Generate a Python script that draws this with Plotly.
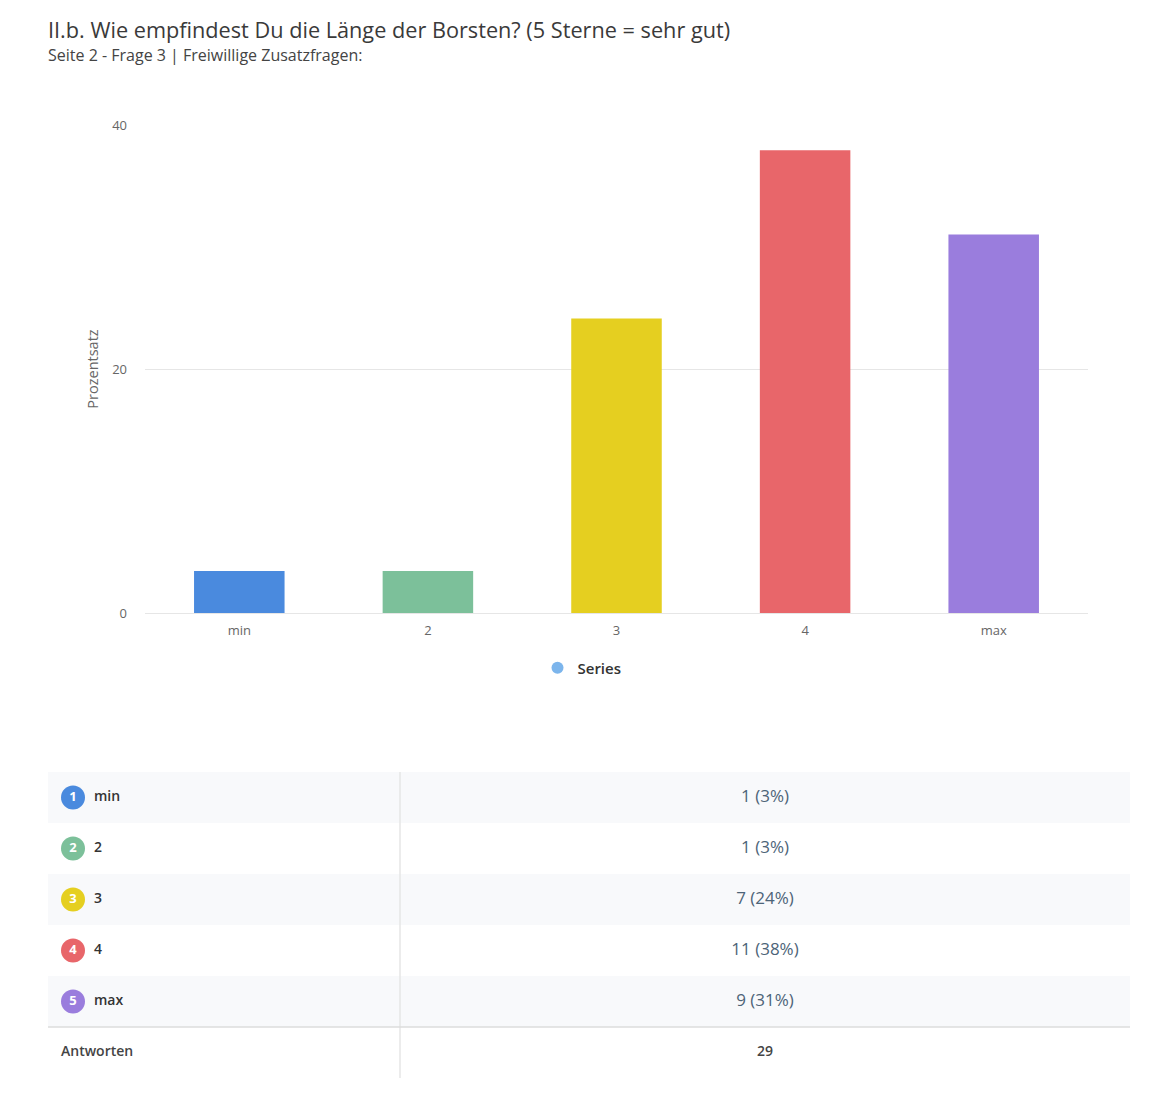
import plotly.graph_objects as go

categories = ["min", "2", "3", "4", "max"]
percent = [3.45, 3.45, 24.14, 37.93, 31.03]
counts = [1, 1, 7, 11, 9]
pct_labels = ["3%", "3%", "24%", "38%", "31%"]
total = 29
colors = ["#4a8ade", "#7cc09a", "#e5cf20", "#e8666a", "#9a7ddd"]
title = "II.b. Wie empfindest Du die Länge der Borsten? (5 Sterne = sehr gut)"
subtitle = "Seite 2 - Frage 3 | Freiwillige Zusatzfragen:"

W, H = 1166, 1102
FONT = "Open Sans"
OFF = 8  # page body margin

def px(x):
    return (x - OFF) / W

def py(y):
    return 1 - (y - OFF) / H

fig = go.Figure()

fig.add_trace(go.Bar(
    x=categories, y=percent, marker=dict(color=colors, line=dict(width=0)),
    showlegend=False, hoverinfo="x+y", xaxis="x", yaxis="y",
))
fig.add_trace(go.Scatter(
    x=[None], y=[None], mode="markers", name="Series",
    marker=dict(color="#7cb5ec", size=13, symbol="circle"),
    xaxis="x", yaxis="y",
))

# table
rows = list(range(len(categories)))
fig.add_trace(go.Scatter(
    x=[73] * len(categories), y=rows, mode="markers+text",
    marker=dict(color=colors, size=24, line=dict(width=0)),
    text=[str(i + 1) for i in rows], textposition="middle center",
    textfont=dict(family=FONT, size=13, color="white", weight="bold"),
    showlegend=False, hoverinfo="skip", xaxis="x2", yaxis="y2",
))
fig.add_trace(go.Scatter(
    x=[94] * len(categories), y=rows, mode="text",
    text=categories, textposition="middle right",
    textfont=dict(family=FONT, size=14, color="#333333", weight=600),
    showlegend=False, hoverinfo="skip", xaxis="x2", yaxis="y2",
))
fig.add_trace(go.Scatter(
    x=[765] * len(categories), y=rows, mode="text",
    text=[f"{c} ({p})" for c, p in zip(counts, pct_labels)], textposition="middle center",
    textfont=dict(family=FONT, size=17, color="#4d6478"),
    showlegend=False, hoverinfo="skip", xaxis="x2", yaxis="y2",
))
n = len(categories)
fig.add_trace(go.Scatter(
    x=[61, 765], y=[n, n], mode="text",
    text=["Antworten", str(total)], textposition=["middle right", "middle center"],
    textfont=dict(family=FONT, size=14, color="#444444", weight=600),
    showlegend=False, hoverinfo="skip", xaxis="x2", yaxis="y2",
))

shapes = []
for i in range(n + 1):
    if i % 2 == 0 and i < n:
        shapes.append(dict(type="rect", xref="x2", yref="y2", x0=48, x1=1130,
                           y0=i - 0.5, y1=i + 0.5, fillcolor="#f8f9fb",
                           line=dict(width=0), layer="below"))
shapes.append(dict(type="line", xref="x2", yref="y2", x0=400, x1=400,
                   y0=-0.5, y1=n + 0.5, line=dict(color="#e6e6e6", width=1.5)))
shapes.append(dict(type="line", xref="x2", yref="y2", x0=48, x1=1130,
                   y0=n - 0.5, y1=n - 0.5, line=dict(color="#dcdcdc", width=1.5)))

fig.update_layout(
    width=W, height=H,
    margin=dict(l=0, r=0, t=0, b=0, pad=0, autoexpand=False),
    paper_bgcolor="white", plot_bgcolor="white",
    font=dict(family=FONT, color="#666666"),
    bargap=0.52,
    xaxis=dict(domain=[px(145), px(1088)], showgrid=False, showline=True,
               linecolor="#e6e6e6", linewidth=1, ticks="", automargin=False,
               ticklabelstandoff=5,
               tickfont=dict(size=13, color="#666666"), fixedrange=True),
    yaxis=dict(domain=[py(613), py(125)], range=[0, 40], tickvals=[0, 20, 40],
               showgrid=True, gridcolor="#e6e6e6", zeroline=False, automargin=False,
               tickfont=dict(size=13, color="#666666"), ticklabelstandoff=17,
               title=dict(text="Prozentsatz", font=dict(size=14.5, color="#666666"), standoff=10),
               fixedrange=True),
    xaxis2=dict(domain=[px(48), px(1130)], range=[48, 1130], visible=False,
                automargin=False, fixedrange=True),
    yaxis2=dict(domain=[py(1078), py(772)], range=[n + 0.5, -0.5], visible=False,
                automargin=False, fixedrange=True),
    legend=dict(orientation="h", x=px(582), xanchor="center", y=py(668), yanchor="middle",
                font=dict(family=FONT, size=15, color="#333333", weight=600),
                itemsizing="constant", itemwidth=30),
    shapes=shapes,
    annotations=[
        dict(text=title, xref="paper", yref="paper", x=px(46), y=py(30),
             xanchor="left", yanchor="middle", showarrow=False,
             font=dict(family=FONT, size=21.7, color="#3a3a3a")),
        dict(text=subtitle, xref="paper", yref="paper", x=px(46), y=py(55),
             xanchor="left", yanchor="middle", showarrow=False,
             font=dict(family=FONT, size=16, color="#444444")),
    ],
)

fig.write_html("out.html")
